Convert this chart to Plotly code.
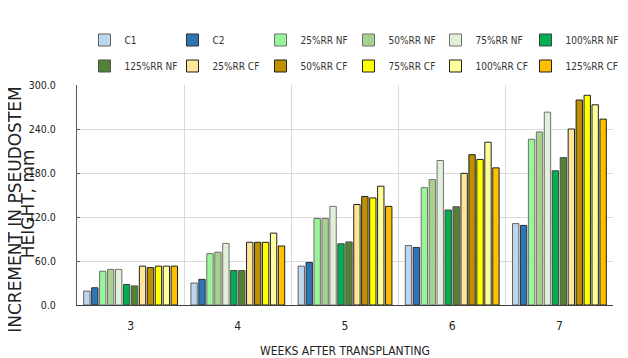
import plotly.graph_objects as go

weeks = ["3", "4", "5", "6", "7"]
series_names = ["C1", "C2", "25%RR NF", "50%RR NF", "75%RR NF", "100%RR NF",
                "125%RR NF", "25%RR CF", "50%RR CF", "75%RR CF", "100%RR CF", "125%RR CF"]

c1 = [19, 30, 53, 81, 111]
c2 = [23.5, 35, 58, 78.5, 108.5]
nf25 = [46, 70, 118, 160, 226]
nf50 = [48.5, 72, 118, 171, 236]
nf75 = [48.5, 84, 134.5, 197, 263]
nf100 = [28, 47, 83.5, 129.5, 183]
nf125 = [26, 47, 86, 134, 201]
cf25 = [53, 85.5, 137, 179.5, 240]
cf50 = [51, 85.5, 148, 205, 279.5]
cf75 = [53, 85.5, 146, 198.5, 286]
cf100 = [53, 98, 162, 222, 273]
cf125 = [53, 80.5, 134.5, 187, 253.5]

values = [c1, c2, nf25, nf50, nf75, nf100, nf125, cf25, cf50, cf75, cf100, cf125]
colors = ["#BDD7EE", "#2E75B6", "#99F59A", "#A9D18E", "#E2F0D9", "#00B050",
          "#548235", "#FFE699", "#BF9000", "#FFFF00", "#FFFF99", "#FFC000"]
outlines = ["#606060", "#303030", "#707070", "#707070", "#707070", "#404040",
            "#505050", "#202020", "#202020", "#202020", "#202020", "#202020"]

NARROW = "Liberation Sans Narrow, Arial Narrow, DejaVu Sans Condensed, Liberation Sans, sans-serif"

# legend column positions (left edge of the swatch, in page pixels)
col_px = [98, 186, 274, 362, 449, 539]
PLOT_L, PLOT_W = 77, 536

fig = go.Figure()
for i, (name, vals, col, oc) in enumerate(zip(series_names, values, colors, outlines)):
    leg = "legend" if i % 6 == 0 else f"legend{i % 6 + 1}"
    fig.add_trace(go.Bar(
        x=weeks, y=vals, name=name,
        marker=dict(color=col, line=dict(color=oc, width=1)),
        legend=leg, legendgroup=name,
    ))

legends = {}
for k, px in enumerate(col_px):
    key = "legend" if k == 0 else f"legend{k + 1}"
    legends[key] = dict(
        orientation="v", xanchor="left", yanchor="middle",
        x=(px - 13.5 - PLOT_L) / PLOT_W, y=1.1455,
        font=dict(family=NARROW, size=10, color="#333333"),
        itemwidth=30, tracegroupgap=7,
        bgcolor="rgba(0,0,0,0)", traceorder="grouped",
    )

fig.update_layout(
    width=620, height=350,
    margin=dict(l=69, r=15, t=77, b=53, autoexpand=False),
    paper_bgcolor="white", plot_bgcolor="white",
    barmode="group", bargap=0.11, bargroupgap=0.2,
    showlegend=True,
    xaxis=dict(
        type="category", tickson="boundaries",
        showgrid=True, gridcolor="#D9D9D9", gridwidth=1,
        showline=True, linecolor="#404040", linewidth=1,
        ticks="", tickfont=dict(family=NARROW, size=12, color="#222222"),
        ticklabelstandoff=10,
        title=dict(text="WEEKS AFTER TRANSPLANTING",
                   font=dict(family=NARROW, size=12, color="#222222"), standoff=25),
    ),
    yaxis=dict(
        range=[0, 300], dtick=60, tickformat=".1f",
        showgrid=True, gridcolor="#D9D9D9", gridwidth=1,
        showline=True, linecolor="#595959", linewidth=1,
        ticks="inside", ticklen=3, tickcolor="#595959",
        tickfont=dict(family=NARROW, size=10.5, color="#222222"),
        ticklabelstandoff=18, zeroline=False,
    ),
    annotations=[
        dict(text="INCREMENT IN PSEUDOSTEM", xref="paper", yref="paper",
             x=-0.116, y=0.432, xanchor="center", yanchor="middle", textangle=-90,
             showarrow=False, font=dict(family="DejaVu Sans", size=17, color="#222222")),
        dict(text="HEIGHT, mm", xref="paper", yref="paper",
             x=-0.092, y=0.461, xanchor="center", yanchor="middle", textangle=-90,
             showarrow=False, font=dict(family="DejaVu Sans", size=17, color="#222222")),
    ],
    **legends,
)

fig.write_html("out.html")
